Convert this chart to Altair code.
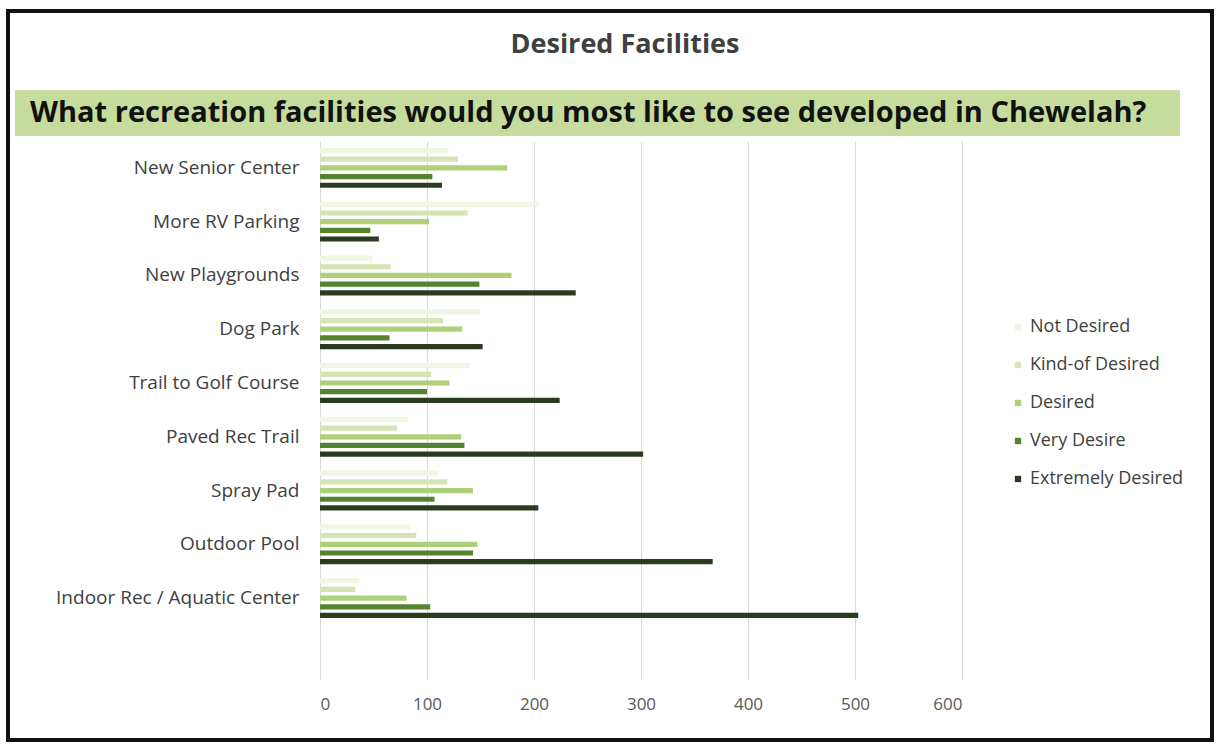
import altair as alt
import pandas as pd

categories = ["New Senior Center", "More RV Parking", "New Playgrounds", "Dog Park",
              "Trail to Golf Course", "Paved Rec Trail", "Spray Pad", "Outdoor Pool",
              "Indoor Rec / Aquatic Center"]
series = ["Not Desired", "Kind-of Desired", "Desired", "Very Desire", "Extremely Desired"]
not_desired = [120, 205, 49, 150, 140, 82, 111, 84, 37]
kind_of = [129, 138, 66, 115, 104, 72, 119, 90, 33]
desired = [175, 102, 179, 133, 121, 132, 143, 147, 81]
very_desire = [105, 47, 149, 65, 100, 135, 107, 143, 103]
extremely = [114, 55, 239, 152, 224, 302, 204, 367, 503]
colors = ["#f0f6e4", "#d3e5b2", "#aed078", "#55842f", "#2a3c1f"]
x_ticks = [0, 100, 200, 300, 400, 500, 600]

title_text = "Desired Facilities"
question_text = "What recreation facilities would you most like to see developed in Chewelah?"

rows = []
for s, vals in zip(series, [not_desired, kind_of, desired, very_desire, extremely]):
    for c, v in zip(categories, vals):
        rows.append({"Facility": c, "Response": s, "Count": v})
df = pd.DataFrame(rows)

FONT = "Open Sans"
W, H = 642, 484

bars = alt.Chart(df).mark_bar().encode(
    x=alt.X("Count:Q", scale=alt.Scale(domain=[0, 600], nice=False),
            axis=alt.Axis(values=x_ticks, title=None, grid=True, gridColor="#d9d9d9",
                          domain=False, ticks=True, tickSize=55, tickColor="#d9d9d9",
                          labelPadding=16, labelFontSize=17, labelColor="#595959",
                          labelFont=FONT)),
    y=alt.Y("Facility:N", sort=categories,
            scale=alt.Scale(paddingInner=0, paddingOuter=0),
            axis=alt.Axis(title=None, domain=False, ticks=False, grid=False,
                          labelPadding=21, labelFontSize=19, labelColor="#404040",
                          labelFont=FONT, labelLimit=400)),
    yOffset=alt.YOffset("Response:N", sort=series,
                        scale=alt.Scale(paddingInner=0.4, paddingOuter=0.8)),
    color=alt.Color("Response:N", sort=series,
                    scale=alt.Scale(domain=series, range=colors),
                    legend=alt.Legend(title=None, orient="none", legendX=689, legendY=177,
                                      symbolType="square", symbolSize=40,
                                      symbolStrokeWidth=0,
                                      labelFontSize=18, labelColor="#404040",
                                      labelFont=FONT, rowPadding=20, labelOffset=3,
                                      labelLimit=300)),
)

one = pd.DataFrame({"k": [0]})

band = alt.Chart(one).mark_rect(color="#c6dc9c").encode(
    x=alt.value(15 - 320), x2=alt.value(1180 - 320),
    y=alt.value(90 - 141), y2=alt.value(136 - 141))

question = alt.Chart(one).mark_text(
    align="left", baseline="middle", font=FONT, fontSize=29, fontWeight="bold",
    color="#111111").encode(
    x=alt.value(30 - 320), y=alt.value(113 - 141), text=alt.value(question_text))

title = alt.Chart(one).mark_text(
    align="center", baseline="middle", font=FONT, fontSize=27, fontWeight="bold",
    color="#404040").encode(
    x=alt.value(625 - 320), y=alt.value(45 - 141), text=alt.value(title_text))

frame = alt.Chart(one).mark_rect(fill=None, stroke="#111111", strokeWidth=4).encode(
    x=alt.value(8 - 320), x2=alt.value(1212 - 320),
    y=alt.value(11 - 141), y2=alt.value(740 - 141))

chart = alt.layer(band, question, title, bars, frame).properties(
    width=W, height=H,
    view=alt.ViewBackground(stroke="transparent", strokeWidth=0),
    autosize=alt.AutoSizeParams(type="none"),
    padding={"left": 320, "top": 141, "right": 1216 - 320 - W, "bottom": 745 - 141 - H},
).configure_view(strokeWidth=0, stroke="transparent").configure(background="white")

chart.save("out.html", embed_options={"renderer": "svg", "actions": False})
